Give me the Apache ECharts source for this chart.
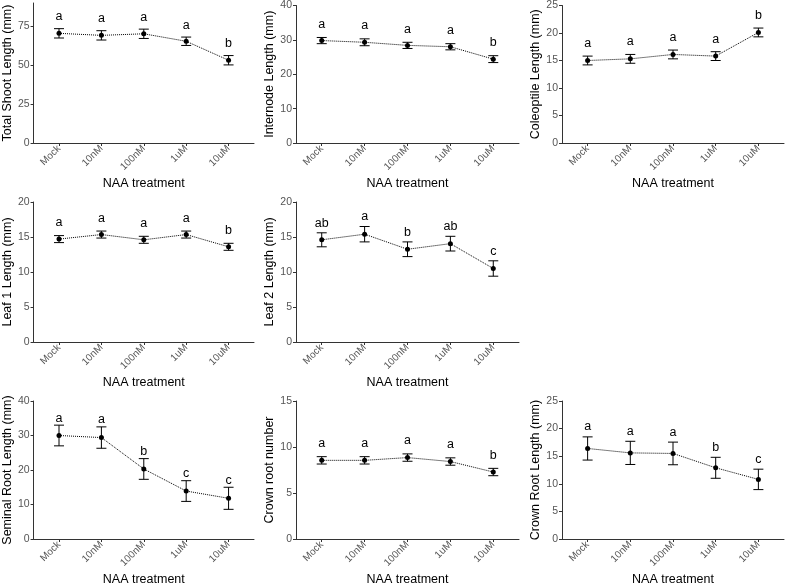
<!DOCTYPE html>
<html>
<head>
<meta charset="utf-8">
<script src="https://cdn.jsdelivr.net/npm/echarts@6/dist/echarts.min.js"></script>
<style>
  html, body { margin: 0; padding: 0; background: #fff; }
  #chart { width: 785px; height: 587px; }
</style>
</head>
<body>
<div id="chart"></div>
<script>
// treatments on the x axis
const treatments = ['Mock', '10nM', '100nM', '1uM', '10uM'];

// values (mean, error, significance letters)
const shootMean = [70.5, 69.2, 70.2, 65.4, 53.2];
const shootErr = [3.0, 3.0, 3.0, 2.7, 3.0];
const shootLetters = ['a', 'a', 'a', 'a', 'b'];
const shootTicks = [0, 25, 50, 75];

const internodeMean = [29.8, 29.3, 28.4, 28.0, 24.4];
const internodeErr = [0.9, 1.0, 0.9, 0.9, 1.0];
const internodeLetters = ['a', 'a', 'a', 'a', 'b'];
const internodeTicks = [0, 10, 20, 30, 40];

const coleoptileMean = [15.0, 15.3, 16.1, 15.8, 20.1];
const coleoptileErr = [0.8, 0.8, 0.8, 0.8, 0.8];
const coleoptileLetters = ['a', 'a', 'a', 'a', 'b'];
const coleoptileTicks = [0, 5, 10, 15, 20, 25];

const leaf1Mean = [14.7, 15.35, 14.6, 15.35, 13.6];
const leaf1Err = [0.5, 0.5, 0.5, 0.5, 0.5];
const leaf1Letters = ['a', 'a', 'a', 'a', 'b'];
const leaf1Ticks = [0, 5, 10, 15, 20];

const leaf2Mean = [14.6, 15.4, 13.25, 14.05, 10.5];
const leaf2Err = [1.0, 1.1, 1.05, 1.05, 1.1];
const leaf2Letters = ['ab', 'a', 'b', 'ab', 'c'];
const leaf2Ticks = [0, 5, 10, 15, 20];

const seminalMean = [30.0, 29.4, 20.3, 13.9, 11.8];
const seminalErr = [3.0, 3.1, 3.0, 3.0, 3.2];
const seminalLetters = ['a', 'a', 'b', 'c', 'c'];
const seminalTicks = [0, 10, 20, 30, 40];

const crownNumMean = [8.55, 8.55, 8.85, 8.42, 7.28];
const crownNumErr = [0.4, 0.4, 0.4, 0.4, 0.4];
const crownNumLetters = ['a', 'a', 'a', 'a', 'b'];
const crownNumTicks = [0, 5, 10, 15];

const crownLenMean = [16.4, 15.6, 15.5, 12.9, 10.8];
const crownLenErr = [2.1, 2.1, 2.05, 1.9, 1.85];
const crownLenLetters = ['a', 'a', 'a', 'b', 'c'];
const crownLenTicks = [0, 5, 10, 15, 20, 25];

const FONT = '"Liberation Sans", Arial, sans-serif';

// panel layout: grid box, y max, label gap above error bar (px)
const panels = [
    { name: 'Total Shoot Length (mm)', mean: shootMean, err: shootErr, letters: shootLetters, ticks: shootTicks, max: 90,
      box: { left: 31, top: 3, width: 223, height: 140 }, gap: 12 },
    { name: 'Internode Length (mm)', mean: internodeMean, err: internodeErr, letters: internodeLetters, ticks: internodeTicks, max: 40,
      box: { left: 296, top: 4, width: 223, height: 139 }, gap: 13 },
    { name: 'Coleoptile Length (mm)', mean: coleoptileMean, err: coleoptileErr, letters: coleoptileLetters, ticks: coleoptileTicks, max: 25,
      box: { left: 562, top: 3, width: 222, height: 140 }, gap: 12.5 },
    { name: 'Leaf 1 Length (mm)', mean: leaf1Mean, err: leaf1Err, letters: leaf1Letters, ticks: leaf1Ticks, max: 20,
      box: { left: 31, top: 202, width: 223, height: 140 }, gap: 13 },
    { name: 'Leaf 2 Length (mm)', mean: leaf2Mean, err: leaf2Err, letters: leaf2Letters, ticks: leaf2Ticks, max: 20,
      box: { left: 296, top: 202, width: 223, height: 140 }, gap: 9.5 },
    { name: 'Seminal Root Length (mm)', mean: seminalMean, err: seminalErr, letters: seminalLetters, ticks: seminalTicks, max: 40,
      box: { left: 31, top: 401, width: 223, height: 139 }, gap: 7 },
    { name: 'Crown root number', mean: crownNumMean, err: crownNumErr, letters: crownNumLetters, ticks: crownNumTicks, max: 15,
      box: { left: 296, top: 401, width: 223, height: 140 }, gap: 13 },
    { name: 'Crown Root Length (mm)', mean: crownLenMean, err: crownLenErr, letters: crownLenLetters, ticks: crownLenTicks, max: 25,
      box: { left: 562, top: 401, width: 222, height: 140 }, gap: 10 }
];

const chart = echarts.init(document.getElementById('chart'), null, { renderer: 'canvas' });

const grid = [], xAxis = [], yAxis = [], series = [];
const catIdx = treatments.map((_, i) => i);

panels.forEach((p, k) => {
    grid.push(Object.assign({ containLabel: false }, p.box));

    xAxis.push({
        type: 'value',
        gridIndex: k,
        min: -0.6,
        max: 4.6,
        name: 'NAA treatment',
        nameLocation: 'middle',
        nameGap: 34,
        nameTextStyle: { fontFamily: FONT, fontSize: 12.5, color: '#000' },
        axisLine: { show: true, onZero: false, lineStyle: { color: '#333', width: 1 } },
        axisTick: { show: true, length: 3, customValues: catIdx, lineStyle: { color: '#333' } },
        axisLabel: {
            customValues: catIdx,
            rotate: 45,
            margin: 4,
            fontFamily: FONT,
            fontSize: 10,
            color: '#555',
            formatter: v => treatments[Math.round(v)]
        },
        splitLine: { show: false }
    });

    yAxis.push({
        type: 'value',
        gridIndex: k,
        min: 0,
        max: p.max,
        name: p.name,
        nameLocation: 'middle',
        nameGap: 18,
        nameTextStyle: { fontFamily: FONT, fontSize: 12.5, color: '#000' },
        axisLine: { show: true, onZero: false, lineStyle: { color: '#333', width: 1 } },
        axisTick: { show: true, length: 3, customValues: p.ticks, lineStyle: { color: '#333' } },
        axisLabel: { customValues: p.ticks, margin: 4, fontFamily: FONT, fontSize: 10.5, color: '#555' },
        splitLine: { show: false }
    });

    // error bars + significance letters
    series.push({
        type: 'custom',
        xAxisIndex: k,
        yAxisIndex: k,
        data: p.mean.map((m, j) => [j, m, p.err[j]]),
        encode: { x: 0, y: 1 },
        clip: false,
        renderItem: (params, api) => {
            const x = api.value(0), m = api.value(1), e = api.value(2);
            const top = api.coord([x, m + e]);
            const bot = api.coord([x, m - e]);
            const hw = 5;
            const st = { stroke: '#000', lineWidth: 1 };
            return {
                type: 'group',
                children: [
                    { type: 'line', shape: { x1: top[0], y1: top[1], x2: bot[0], y2: bot[1] }, style: st },
                    { type: 'line', shape: { x1: top[0] - hw, y1: top[1], x2: top[0] + hw, y2: top[1] }, style: st },
                    { type: 'line', shape: { x1: bot[0] - hw, y1: bot[1], x2: bot[0] + hw, y2: bot[1] }, style: st },
                    {
                        type: 'text',
                        style: {
                            text: p.letters[params.dataIndex],
                            x: top[0],
                            y: top[1] - p.gap,
                            align: 'center',
                            verticalAlign: 'middle',
                            fontFamily: FONT,
                            fontSize: 12.5,
                            fill: '#000'
                        }
                    }
                ]
            };
        },
        z: 2
    });

    // mean points joined by a dotted line
    series.push({
        type: 'line',
        xAxisIndex: k,
        yAxisIndex: k,
        data: p.mean.map((m, j) => [j, m]),
        symbol: 'circle',
        symbolSize: 5,
        itemStyle: { color: '#000' },
        lineStyle: { color: '#000', width: 1, type: 'dotted' },
        animation: false,
        z: 3
    });
});

chart.setOption({
    animation: false,
    backgroundColor: '#fff',
    grid: grid,
    xAxis: xAxis,
    yAxis: yAxis,
    series: series
});

window.addEventListener('resize', () => chart.resize());
</script>
</body>
</html>
